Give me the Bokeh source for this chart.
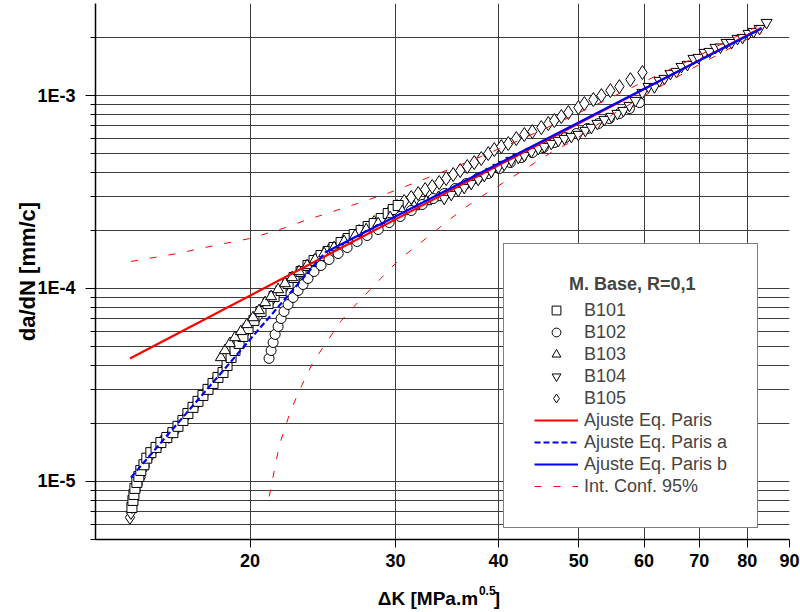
from bokeh.plotting import figure
from bokeh.layouts import column
from bokeh.models import (FixedTicker, CustomJSTickFormatter, Legend, LegendItem,
                          Label, Range1d)
from bokeh.embed import file_html
from bokeh.resources import INLINE

# ---------------- data ----------------
b101_dk = [14.39, 14.43, 14.47, 14.51, 14.59, 14.67, 14.75, 14.88, 15.00, 15.17, 15.39, 15.60,
           15.86, 16.13, 16.36, 16.59, 16.82, 17.06, 17.30, 17.54, 17.79, 18.04, 18.29, 18.55,
           18.76, 18.97, 19.18, 19.40, 19.61, 19.89, 20.22, 20.62, 21.03, 21.39, 21.81, 22.24,
           22.61, 23.06, 23.51, 23.91, 24.38, 24.86, 25.28, 25.78, 26.29, 26.74, 27.26, 27.80,
           28.27, 28.83, 29.40, 29.81, 30.23]
b101_da = [7.33e-6, 7.97e-6, 8.56e-6, 9.20e-6, 9.88e-6, 1.06e-5, 1.14e-5, 1.22e-5, 1.32e-5,
           1.41e-5, 1.50e-5, 1.59e-5, 1.69e-5, 1.79e-5, 1.93e-5, 2.07e-5, 2.25e-5, 2.42e-5,
           2.60e-5, 2.79e-5, 3.00e-5, 3.22e-5, 3.46e-5, 3.67e-5, 3.99e-5, 4.39e-5, 4.77e-5,
           5.19e-5, 5.64e-5, 6.20e-5, 6.83e-5, 7.60e-5, 8.36e-5, 9.09e-5, 9.76e-5, 1.061e-4,
           1.140e-4, 1.225e-4, 1.316e-4, 1.397e-4, 1.482e-4, 1.555e-4, 1.631e-4, 1.731e-4,
           1.816e-4, 1.904e-4, 1.997e-4, 2.095e-4, 2.171e-4, 2.305e-4, 2.447e-4, 2.566e-4, 2.692e-4]

b102_dk = [21.09, 21.21, 21.33, 21.45, 21.63, 21.81, 21.99, 22.24, 22.55, 22.87, 23.19, 23.51,
           23.91, 24.38, 24.93, 25.57, 26.22, 26.96, 27.72, 28.59, 29.48, 30.40, 31.35, 32.32,
           33.33, 34.37, 35.44, 36.55, 37.69, 38.86, 40.07, 41.32, 42.61, 43.94, 45.31, 46.72,
           48.18, 49.68, 51.23, 52.83, 54.47, 56.01, 57.60, 59.23]
b102_da = [4.34e-5, 4.77e-5, 5.25e-5, 5.78e-5, 6.35e-5, 6.99e-5, 7.60e-5, 8.26e-5, 8.98e-5,
           9.76e-5, 1.049e-4, 1.127e-4, 1.225e-4, 1.316e-4, 1.413e-4, 1.518e-4, 1.631e-4,
           1.752e-4, 1.882e-4, 2.021e-4, 2.197e-4, 2.361e-4, 2.536e-4, 2.724e-4, 2.926e-4,
           3.106e-4, 3.297e-4, 3.499e-4, 3.714e-4, 3.942e-4, 4.184e-4, 4.495e-4, 4.772e-4,
           5.065e-4, 5.377e-4, 5.707e-4, 6.058e-4, 6.354e-4, 6.745e-4, 7.159e-4, 7.599e-4,
           8.066e-4, 8.562e-4, 9.197e-4]

b103_dk = [18.44, 18.65, 18.91, 19.18, 19.50, 19.83, 20.17, 20.51, 20.86, 21.21, 21.63, 22.05,
           22.49, 22.93, 23.45, 23.98, 24.59, 25.28, 26.00, 26.81, 27.65, 28.59, 29.56, 30.57,
           31.61, 32.69, 33.80, 34.56]
b103_da = [4.39e-5, 4.77e-5, 5.19e-5, 5.57e-5, 5.99e-5, 6.51e-5, 7.07e-5, 7.69e-5, 8.46e-5,
           9.09e-5, 9.88e-5, 1.061e-4, 1.140e-4, 1.225e-4, 1.316e-4, 1.413e-4, 1.518e-4,
           1.631e-4, 1.752e-4, 1.882e-4, 2.021e-4, 2.171e-4, 2.333e-4, 2.506e-4, 2.659e-4,
           2.823e-4, 2.961e-4, 3.069e-4]

b104_dk = [34.37, 35.05, 35.74, 36.34, 37.06, 37.79, 38.43, 39.19, 39.96, 40.63, 41.44, 42.26,
           42.97, 43.82, 44.68, 45.43, 46.33, 47.25, 48.04, 48.99, 49.96, 50.94, 51.80, 52.68,
           53.72, 54.78, 55.70, 56.64, 57.60, 58.57, 59.73, 60.74, 61.76, 62.63, 63.51, 64.58,
           65.67, 66.60, 67.72, 68.86, 69.83, 71.01, 72.01, 73.22, 74.25, 75.51, 76.57, 77.86,
           78.96, 80.29, 81.42, 82.79, 84.43]
b104_da = [2.926e-4, 3.069e-4, 3.218e-4, 3.336e-4, 3.499e-4, 3.670e-4, 3.849e-4, 4.038e-4,
           4.235e-4, 4.390e-4, 4.604e-4, 4.772e-4, 4.887e-4, 5.126e-4, 5.313e-4, 5.441e-4,
           5.639e-4, 5.845e-4, 5.986e-4, 6.130e-4, 6.279e-4, 6.586e-4, 6.826e-4, 7.159e-4,
           7.509e-4, 7.783e-4, 8.066e-4, 8.360e-4, 8.874e-4, 9.420e-4, 1.036e-3, 1.113e-3,
           1.108e-3, 1.196e-3, 1.225e-3, 1.300e-3, 1.331e-3, 1.413e-3, 1.447e-3, 1.555e-3,
           1.573e-3, 1.670e-3, 1.690e-3, 1.773e-3, 1.781e-3, 1.882e-3, 1.879e-3, 1.974e-3,
           1.997e-3, 2.095e-3, 2.145e-3, 2.224e-3, 2.389e-3]

b105_dk = [14.31, 14.35, 14.39, 14.43, 14.47, 14.55, 14.63, 14.75, 14.92, 15.09, 15.30, 15.60,
           15.95, 16.31, 16.73, 17.20, 17.69, 18.19, 18.70, 19.23, 19.78, 20.45, 21.21, 22.05,
           22.93, 23.91, 24.93, 26.00, 27.11, 28.27, 29.48, 30.14,
           30.74, 31.35, 31.96, 32.59, 33.24, 33.89, 34.56, 35.24, 35.94, 36.65, 37.37, 38.11,
           38.86, 39.52, 40.30, 41.09, 42.02, 42.97, 43.94, 45.06, 45.94, 46.72, 47.64, 48.58,
           49.96, 50.80, 52.09, 53.27, 54.62, 56.01, 57.76, 59.73]
b105_da = [6.51e-6, 6.91e-6, 7.42e-6, 7.88e-6, 8.36e-6, 8.98e-6, 9.65e-6, 1.049e-5, 1.196e-5,
           1.33e-5, 1.46e-5, 1.59e-5, 1.71e-5, 1.88e-5, 2.17e-5, 2.51e-5, 2.93e-5, 3.38e-5,
           3.90e-5, 4.89e-5, 5.99e-5, 7.16e-5, 8.67e-5, 1.024e-4, 1.196e-4, 1.380e-4, 1.574e-4,
           1.773e-4, 1.974e-4, 2.197e-4, 2.476e-4, 2.659e-4,
           2.823e-4, 2.961e-4, 3.106e-4, 3.257e-4, 3.376e-4, 3.541e-4, 3.714e-4, 3.896e-4,
           4.086e-4, 4.286e-4, 4.495e-4, 4.715e-4, 5.005e-4, 5.249e-4, 5.441e-4, 5.639e-4,
           5.986e-4, 6.279e-4, 6.507e-4, 6.826e-4, 7.159e-4, 7.420e-4, 7.783e-4, 8.163e-4,
           8.665e-4, 9.088e-4, 9.533e-4, 9.998e-4, 1.061e-3, 1.113e-3, 1.210e-3, 1.316e-3]

paris_dk = [14.31, 83.26]
paris_da = [4.34e-5, 2.25e-3]
paris_a_dk = [14.35, 24.66]
paris_a_da = [1.049e-5, 1.536e-4]
paris_b_dk = [24.66, 83.26]
paris_b_da = [1.536e-4, 2.224e-3]

ci_up_dk = [14.35, 16.36, 18.34, 20.06, 22.1, 23.3, 26.1, 29.5, 33.3, 37.6, 42.3, 47.2, 53.3,
            60.4, 68.5, 76.6, 83.3]
ci_up_da = [1.38e-4, 1.52e-4, 1.69e-4, 1.82e-4, 2.07e-4, 2.25e-4, 2.63e-4, 3.14e-4, 3.84e-4,
            4.72e-4, 5.85e-4, 7.24e-4, 9.25e-4, 1.197e-3, 1.54e-3, 1.97e-3, 2.34e-3]
ci_lo_dk = [21.1, 21.7, 22.4, 23.1, 23.8, 24.5, 25.8, 27.0, 28.8, 30.3, 32.2, 34.3, 36.3, 38.6,
            41.1, 43.5, 46.3, 49.3, 55.2, 62.1, 70.0, 79.4, 83.3]
ci_lo_da = [8.36e-6, 1.536e-5, 2.33e-5, 3.14e-5, 4.08e-5, 4.94e-5, 6.82e-5, 8.45e-5, 1.127e-4,
            1.41e-4, 1.73e-4, 2.15e-4, 2.60e-4, 3.10e-4, 3.67e-4, 4.28e-4, 5.07e-4, 5.85e-4,
            8.07e-4, 1.086e-3, 1.449e-3, 1.93e-3, 2.12e-3]

x_ticks = [20, 30, 40, 50, 60, 70, 80, 90]
x_grid = [20, 30, 40, 50, 60, 70, 80]
y_ticks = [1e-5, 1e-4, 1e-3]
y_minor = [5e-6, 6e-6, 7e-6, 8e-6, 9e-6,
           2e-5, 3e-5, 4e-5, 5e-5, 6e-5, 7e-5, 8e-5, 9e-5,
           2e-4, 3e-4, 4e-4, 5e-4, 6e-4, 7e-4, 8e-4, 9e-4,
           2e-3]

FONT = "Liberation Sans"

# ---------------- main figure ----------------
p = figure(width=800, height=580, x_axis_type="log", y_axis_type="log",
           x_range=Range1d(13, 90), y_range=Range1d(5e-6, 3e-3),
           output_backend="svg", toolbar_location=None,
           min_border_left=95, min_border_right=11, min_border_top=3, min_border_bottom=41)
p.outline_line_color = None
p.background_fill_color = "white"
p.border_fill_color = "white"

p.xaxis.ticker = FixedTicker(ticks=x_ticks)
p.xaxis.formatter = CustomJSTickFormatter(code="return tick.toFixed(0);")
p.yaxis.ticker = FixedTicker(ticks=y_ticks, minor_ticks=y_minor)
p.yaxis.formatter = CustomJSTickFormatter(code="return '1E' + Math.round(Math.log10(tick));")
for ax in (p.xaxis[0], p.yaxis[0]):
    ax.axis_line_color = "black"
    ax.axis_line_width = 1.5
    ax.major_tick_line_color = "black"
    ax.minor_tick_line_color = "black"
    ax.major_tick_in = 0
    ax.minor_tick_in = 0
    ax.major_label_text_font = FONT
    ax.major_label_text_font_style = "bold"
    ax.major_label_text_font_size = "18px"
    ax.major_label_text_color = "black"
p.xaxis.major_tick_out = 8
p.xaxis.minor_tick_out = 0
p.xaxis.major_label_standoff = 6
p.yaxis.major_tick_out = 10
p.yaxis.minor_tick_out = 5
p.yaxis.major_label_standoff = 10
p.yaxis.axis_label = "da/dN [mm/c]"
p.yaxis.axis_label_text_font = FONT
p.yaxis.axis_label_text_font_style = "bold"
p.yaxis.axis_label_text_font_size = "22px"
p.yaxis.axis_label_text_color = "black"
p.yaxis.axis_label_standoff = -6

p.xgrid.ticker = FixedTicker(ticks=x_grid)
p.xgrid.grid_line_color = "#3c3c3c"
p.ygrid.ticker = FixedTicker(ticks=y_ticks, minor_ticks=y_minor)
p.ygrid.grid_line_color = "#3c3c3c"
p.ygrid.minor_grid_line_color = "#3c3c3c"

mk = dict(fill_color="white", line_color="black", line_width=1)
r105 = p.scatter(b105_dk, b105_da, marker="diamond", size=14, **mk)
r101 = p.scatter(b101_dk, b101_da, marker="square", size=10, **mk)
r103 = p.scatter(b103_dk, b103_da, marker="triangle", size=11, **mk)
r102 = p.scatter(b102_dk, b102_da, marker="circle", size=10, **mk)
r104 = p.scatter(b104_dk, b104_da, marker="inverted_triangle", size=11, **mk)

rci1 = p.line(ci_up_dk, ci_up_da, line_color="red", line_width=1, line_dash="7 12")
rci2 = p.line(ci_lo_dk, ci_lo_da, line_color="red", line_width=1, line_dash="7 12")
rp = p.line(paris_dk, paris_da, line_color="red", line_width=2.2)
rpa = p.line(paris_a_dk, paris_a_da, line_color="blue", line_width=2.2, line_dash="6 3")
rpb = p.line(paris_b_dk, paris_b_da, line_color="blue", line_width=2.2)

legend = Legend(items=[
    LegendItem(label="B101", renderers=[r101]),
    LegendItem(label="B102", renderers=[r102]),
    LegendItem(label="B103", renderers=[r103]),
    LegendItem(label="B104", renderers=[r104]),
    LegendItem(label="B105", renderers=[r105]),
    LegendItem(label="Ajuste Eq. Paris", renderers=[rp]),
    LegendItem(label="Ajuste Eq. Paris a", renderers=[rpa]),
    LegendItem(label="Ajuste Eq. Paris b", renderers=[rpb]),
    LegendItem(label="Int. Conf. 95%", renderers=[rci1]),
], location=(408, 11))
legend.title = "\u00a0" * 7 + "M. Base, R=0,1"
legend.title_text_font = FONT
legend.title_text_font_style = "bold"
legend.title_text_font_size = "18px"
legend.title_standoff = 4
legend.label_text_font = FONT
legend.label_text_font_size = "18px"
legend.label_height = 22
legend.glyph_height = 22
legend.glyph_width = 44
legend.label_standoff = 6
legend.spacing = 0
legend.padding = 30
legend.margin = 0
legend.border_line_color = "black"
legend.border_line_width = 1
legend.background_fill_color = "white"
legend.background_fill_alpha = 1
p.add_layout(legend)

# ---------------- x-axis title strip (with superscript) ----------------
t = figure(width=800, height=32, x_range=Range1d(0, 800), y_range=Range1d(0, 32),
           output_backend="svg", toolbar_location=None, min_border=0,
           x_axis_location=None, y_axis_location=None)
t.outline_line_color = None
t.grid.visible = False
t.background_fill_color = "white"
t.border_fill_color = "white"
lab_kw = dict(text_font=FONT, text_font_style="bold", text_color="black",
              text_baseline="middle")
t.add_layout(Label(x=441, y=14, text="\u0394K [MPa.m", text_align="right",
                   text_font_size="19px", **lab_kw))
t.add_layout(Label(x=442, y=22, text="0.5", text_align="left",
                   text_font_size="12px", **lab_kw))
t.add_layout(Label(x=459, y=14, text="]", text_align="left",
                   text_font_size="19px", **lab_kw))

layout = column(p, t, spacing=0)
open("out.html", "w").write(file_html(layout, INLINE))
